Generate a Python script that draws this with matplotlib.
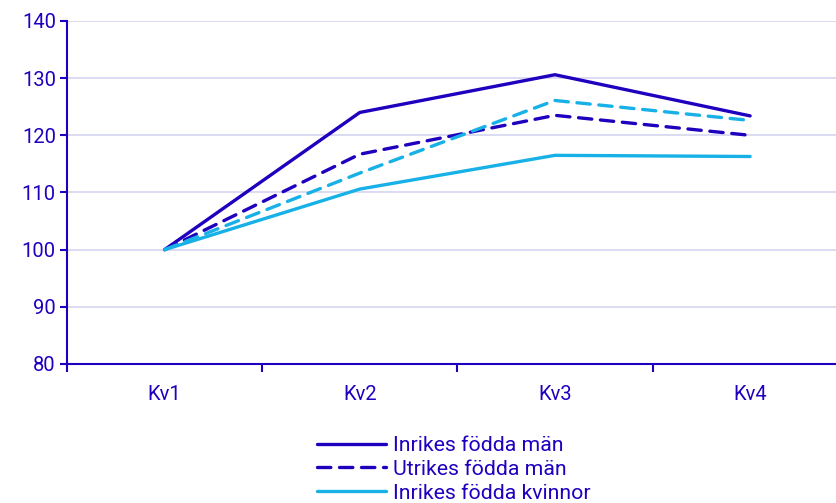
import matplotlib.pyplot as plt
import numpy as np

quarters = ['Kv1', 'Kv2', 'Kv3', 'Kv4']
inrikes_man = [100, 124.0, 130.6, 123.4]
utrikes_man = [100, 116.7, 123.5, 120.0]
inrikes_kvinnor = [100, 110.6, 116.5, 116.3]
utrikes_kvinnor = [100, 113.4, 126.1, 122.6]

dark = '#1e00be'
light = '#17b1e8'

plt.rcParams['font.family'] = ['Roboto', 'DejaVu Sans']

fig = plt.figure(figsize=(8.36, 5.03), dpi=100)
ax = fig.add_axes([67 / 836, 1 - 364 / 503, 1 - 67 / 836, (364 - 21) / 503])

x = np.arange(len(quarters))
dash = (0, (4, 2.6))
ax.plot(x, inrikes_man, color=dark, lw=2.4, label='Inrikes födda män', solid_capstyle='round')
ax.plot(x, utrikes_man, color=dark, lw=2.4, ls=dash, dash_capstyle='round', label='Utrikes födda män')
ax.plot(x, inrikes_kvinnor, color=light, lw=2.4, label='Inrikes födda kvinnor', solid_capstyle='round')
ax.plot(x, utrikes_kvinnor, color=light, lw=2.4, ls=dash, dash_capstyle='round', label='Utrikes födda kvinnor')

ax.set_ylim(80, 140)
ax.set_yticks(range(80, 141, 10))
ax.set_xlim(-0.5, 3.44)
ax.set_xticks(x)
ax.set_xticklabels(quarters)
ax.set_xticks([-0.5, 0.5, 1.5, 2.5], minor=True)
ax.tick_params(axis='x', which='major', length=0, pad=15, colors=dark, labelsize=14.5)
ax.tick_params(axis='x', which='minor', length=6, width=1.5, color=dark)
ax.tick_params(axis='y', length=5, width=1.5, color=dark, labelcolor=dark, labelsize=14.5, pad=3)

ax.grid(axis='y', color='#d4d4f0', lw=1.2)
ax.set_axisbelow(True)
for s in ['top', 'right']:
    ax.spines[s].set_visible(False)
for s in ['left', 'bottom']:
    ax.spines[s].set_color(dark)
    ax.spines[s].set_linewidth(1.5)
ax.spines['left'].set_zorder(3)

leg = fig.legend(loc='upper left', bbox_to_anchor=(317 / 836, 1 - 436 / 503), frameon=False,
                 fontsize=15.3, labelcolor=dark, handlelength=3.25, handletextpad=0.33,
                 labelspacing=0.23, borderpad=0, borderaxespad=0)

fig.savefig('out.png', dpi=100)
